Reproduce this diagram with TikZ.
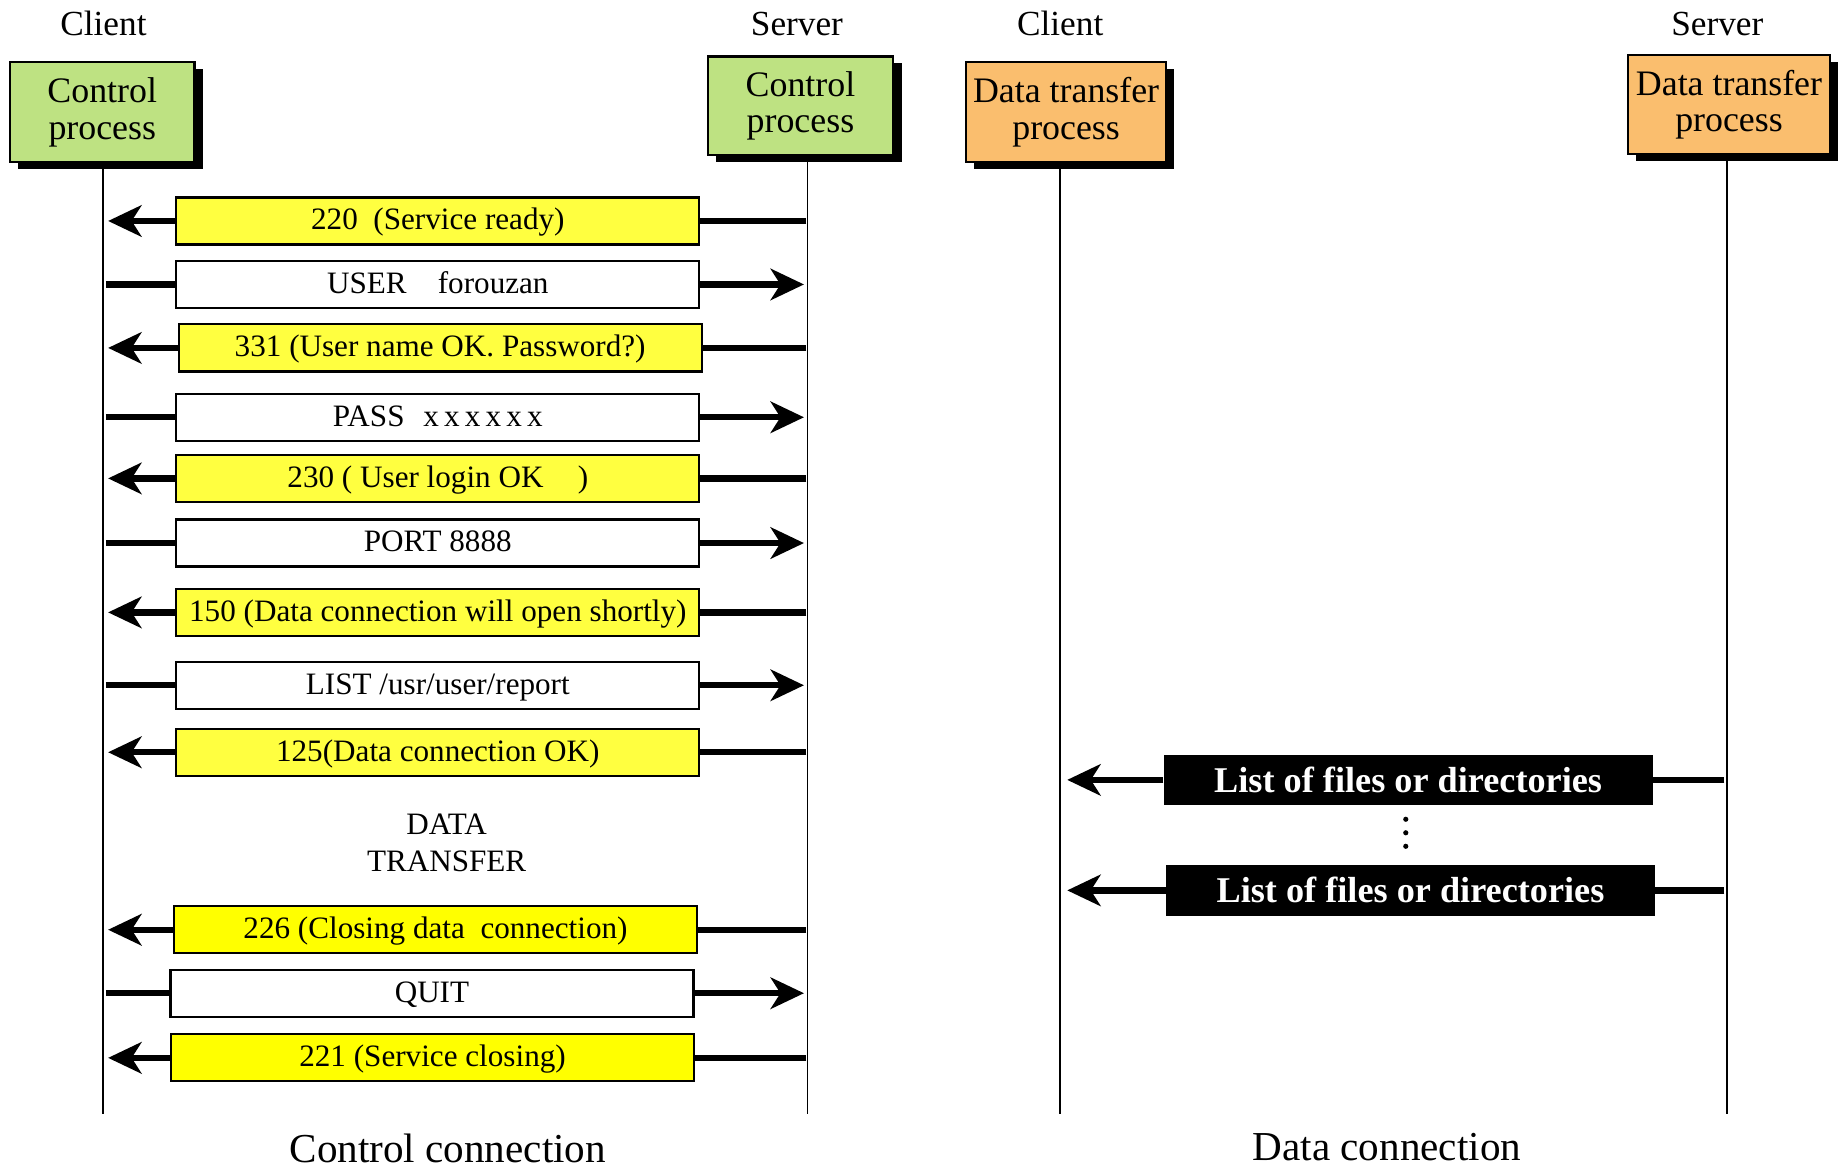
\documentclass[tikz,border=0pt]{standalone}
\usepackage{fontspec}
\setmainfont{Liberation Serif}
\usetikzlibrary{arrows.meta,shadows}

\definecolor{procgreen}{RGB}{190,226,130}
\definecolor{procorange}{RGB}{250,190,110}
\definecolor{replyA}{RGB}{255,255,64}
\definecolor{replyB}{RGB}{255,255,0}

\newcommand\msgfont{\fontsize{15.9}{19.2}\selectfont}
\newcommand\procfont{\fontsize{18.3}{18.8}\selectfont}

\tikzset{
  proc/.style={draw, line width=1.1pt, inner sep=0pt, align=center, font=\procfont,
    drop shadow={shadow xshift=4.2pt, shadow yshift=-3.6pt, fill=black, opacity=1}},
  msgbox/.style={draw, line width=1.1pt, inner sep=0pt, minimum width=267pt,
    minimum height=24pt, font=\msgfont, text depth=3.5pt, text height=12.5pt},
  reply/.style={msgbox, fill=replyA},
  replylate/.style={msgbox, fill=replyB},
  request/.style={msgbox, fill=white},
  databox/.style={fill=black, text=white, inner sep=0pt, minimum width=249.6pt,
    minimum height=25.8pt, font=\fontsize{18.5}{20}\selectfont\bfseries},
  thickline/.style={line width=3.2pt},
  thickarrow/.style={line width=3.2pt, -{Stealth[length=17pt, width=16pt, inset=5pt]}},
  lifeline/.style={line width=1pt},
  role/.style={font=\fontsize{18}{20}\selectfont},
  caption/.style={font=\fontsize{21}{24}\selectfont}
}

\begin{document}
\begin{tikzpicture}[x=0.6pt, y=-0.6pt]
\useasboundingbox (0,0) rectangle (1568,995);

% lifeline positions and ends
\coordinate (clx) at (88,0);
\coordinate (svx) at (687,0);
\coordinate (dcx) at (902,0);
\coordinate (dsx) at (1469,0);
\coordinate (bottom) at (0,948);
% arrow tips and tails near the lifelines
\coordinate (cltip) at (92,0);
\coordinate (cltail) at (90,0);
\coordinate (svtip) at (684,0);
\coordinate (svtail) at (686,0);
\coordinate (dctip) at (908,0);
\coordinate (dstail) at (1467,0);

% role labels
\node[role] (lclient) at (88,20) {Client};
\node[role] (lserver) at (678,20) {Server};
\node[role] (ldclient) at (902,20) {Client};
\node[role] (ldserver) at (1461,20) {Server};

% lifelines
\draw[lifeline] (clx |- 0,138) -- (clx |- bottom);
\draw[lifeline] (svx |- 0,132) -- (svx |- bottom);
\draw[lifeline] (dcx |- 0,138) -- (dcx |- bottom);
\draw[lifeline] (dsx |- 0,131) -- (dsx |- bottom);

% processes
\node[proc, fill=procgreen, minimum width=94.2pt, minimum height=51pt] (ccp) at (87,95.5) {Control\\process};
\node[proc, fill=procgreen, minimum width=94.8pt, minimum height=50.4pt] (scp) at (681,90) {Control\\process};
\node[proc, fill=procorange, minimum width=102pt, minimum height=51pt] (cdtp) at (907,95.5) {Data transfer\\process};
\node[proc, fill=procorange, minimum width=103.2pt, minimum height=50.4pt] (sdtp) at (1471,89) {Data transfer\\process};

% control connection messages
\node[reply] (m1) at (372.5,188) {220~~(Service ready)};
\draw[thickline] (m1.east -| svtail) -- (m1.east);
\draw[thickarrow] (m1.west) -- (m1.west -| cltip);

\node[request] (m2) at (372.5,242) {USER\hspace{1em}forouzan};
\draw[thickline] (m2.west -| cltail) -- (m2.west);
\draw[thickarrow] (m2.east) -- (m2.east -| svtip);

\node[reply] (m3) at (374.5,296) {331 (User name OK. Password?)};
\draw[thickline] (m3.east -| svtail) -- (m3.east);
\draw[thickarrow] (m3.west) -- (m3.west -| cltip);

\node[request] (m4) at (372.5,355) {PASS\hspace{0.6em}x\,x\,x\,x\,x\,x};
\draw[thickline] (m4.west -| cltail) -- (m4.west);
\draw[thickarrow] (m4.east) -- (m4.east -| svtip);

\node[reply] (m5) at (372.5,407) {230 ( User login OK\hspace{1.1em})};
\draw[thickline] (m5.east -| svtail) -- (m5.east);
\draw[thickarrow] (m5.west) -- (m5.west -| cltip);

\node[request] (m6) at (372.5,462) {PORT 8888};
\draw[thickline] (m6.west -| cltail) -- (m6.west);
\draw[thickarrow] (m6.east) -- (m6.east -| svtip);

\node[reply] (m7) at (372.5,521) {150 (Data connection will open shortly)};
\draw[thickline] (m7.east -| svtail) -- (m7.east);
\draw[thickarrow] (m7.west) -- (m7.west -| cltip);

\node[request] (m8) at (372.5,583) {LIST /usr/user/report};
\draw[thickline] (m8.west -| cltail) -- (m8.west);
\draw[thickarrow] (m8.east) -- (m8.east -| svtip);

\node[reply] (m9) at (372.5,640) {125(Data connection OK)};
\draw[thickline] (m9.east -| svtail) -- (m9.east);
\draw[thickarrow] (m9.west) -- (m9.west -| cltip);

\node[font=\msgfont, align=center] (dt) at (380,717) {DATA\\TRANSFER};

\node[replylate] (m10) at (370.5,791) {226 (Closing data~~connection)};
\draw[thickline] (m10.east -| svtail) -- (m10.east);
\draw[thickarrow] (m10.west) -- (m10.west -| cltip);

\node[request] (m11) at (367.5,845) {QUIT};
\draw[thickline] (m11.west -| cltail) -- (m11.west);
\draw[thickarrow] (m11.east) -- (m11.east -| svtip);

\node[replylate] (m12) at (368,900) {221 (Service closing)};
\draw[thickline] (m12.east -| svtail) -- (m12.east);
\draw[thickarrow] (m12.west) -- (m12.west -| cltip);

% data connection transfers
\node[databox] (d1) at (1198,663.5) {List of files or directories};
\draw[thickline] (d1.east -| dstail) -- (d1.east);
\draw[thickarrow] (d1.west) -- (d1.west -| dctip);

\fill (1196,697) circle (2.2);
\fill (1196,708.5) circle (2.2);
\fill (1196,720) circle (2.2);

\node[databox] (d2) at (1200,757.5) {List of files or directories};
\draw[thickline] (d2.east -| dstail) -- (d2.east);
\draw[thickarrow] (d2.west) -- (d2.west -| dctip);

% captions
\node[caption] (cc) at (381,977) {Control connection};
\node[caption] (dc) at (1180,976) {Data connection};
\end{tikzpicture}
\end{document}
